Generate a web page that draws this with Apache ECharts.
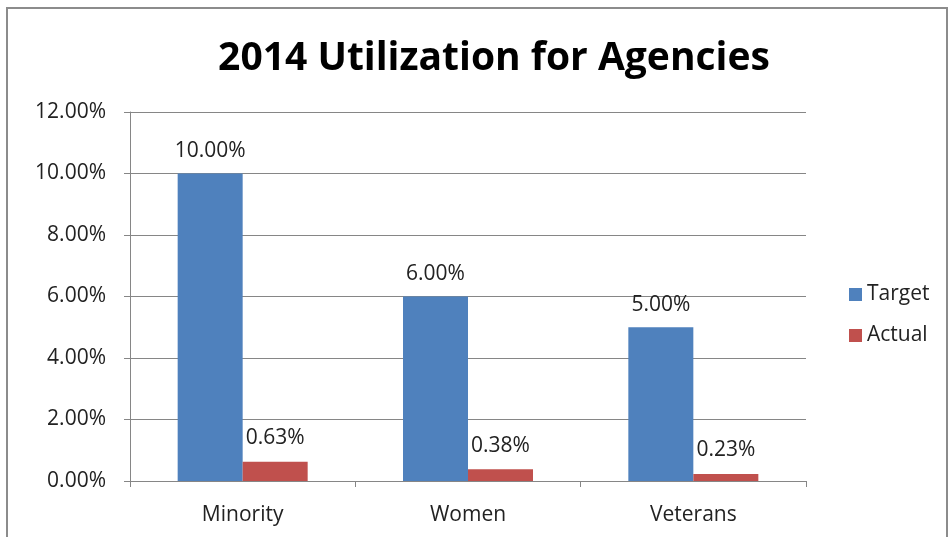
<!DOCTYPE html>
<html>
<head>
<meta charset="utf-8">
<script src="https://cdn.jsdelivr.net/npm/echarts@6/dist/echarts.min.js"></script>
<style>
html,body{margin:0;padding:0;background:#fff;}
#frame{position:absolute;left:6px;top:7px;width:942px;height:540px;border:2px solid #8c8c8c;box-sizing:border-box;}
#chart{position:absolute;left:0;top:0;width:952px;height:537px;}
</style>
</head>
<body>
<div id="frame"></div>
<div id="chart"></div>
<script>
var categories = ['Minority', 'Women', 'Veterans'];
var targetVals = [10.00, 6.00, 5.00];
var actualVals = [0.63, 0.38, 0.23];
var yTicks = [0, 2, 4, 6, 8, 10, 12];

var font = '"Open Sans", "Liberation Sans", sans-serif';

function pct(v) { return v.toFixed(2) + '%'; }

var myChart = echarts.init(document.getElementById('chart'));
var option = {
	animation: false,
	title: {
		text: '2014 Utilization for Agencies',
		left: 489,
		top: 34,
		textAlign: 'center',
		textStyle: {fontFamily: font, fontSize: 39, fontWeight: 'bold', color: '#000'}
	},
	legend: {
		orient: 'vertical',
		left: 844,
		top: 279,
		itemWidth: 13,
		itemHeight: 13,
		itemGap: 20,
		icon: 'rect',
		textStyle: {fontFamily: font, fontSize: 21, color: '#222'},
		data: ['Target', 'Actual']
	},
	grid: {left: 130, right: 146, top: 112, bottom: 56, containLabel: false},
	xAxis: {
		type: 'category',
		data: categories,
		axisLine: {lineStyle: {color: '#868686', width: 1}},
		axisTick: {show: true, length: 6, lineStyle: {color: '#868686'}},
		axisLabel: {fontFamily: font, fontSize: 21, color: '#222', margin: 24}
	},
	yAxis: {
		type: 'value',
		min: yTicks[0],
		max: yTicks[yTicks.length - 1],
		interval: 2,
		axisLine: {show: true, lineStyle: {color: '#868686'}},
		axisTick: {show: true, length: 6, lineStyle: {color: '#868686'}},
		splitLine: {lineStyle: {color: '#868686', width: 1}},
		axisLabel: {
			fontFamily: font, fontSize: 21, color: '#222', margin: 24,
			formatter: function(v) { return pct(v); }
		}
	},
	series: [
		{
			name: 'Target',
			type: 'bar',
			data: targetVals,
			barWidth: 65,
			barGap: '0%',
			itemStyle: {color: '#4f81bd'},
			label: {
				show: true, position: 'top', distance: 12,
				fontFamily: font, fontSize: 21, color: '#222',
				formatter: function(p) { return pct(p.value); }
			}
		},
		{
			name: 'Actual',
			type: 'bar',
			data: actualVals,
			barWidth: 65,
			itemStyle: {color: '#c0504d'},
			label: {
				show: true, position: 'top', distance: 13,
				fontFamily: font, fontSize: 21, color: '#222',
				formatter: function(p) { return pct(p.value); }
			}
		}
	]
};
myChart.setOption(option);
</script>
</body>
</html>
